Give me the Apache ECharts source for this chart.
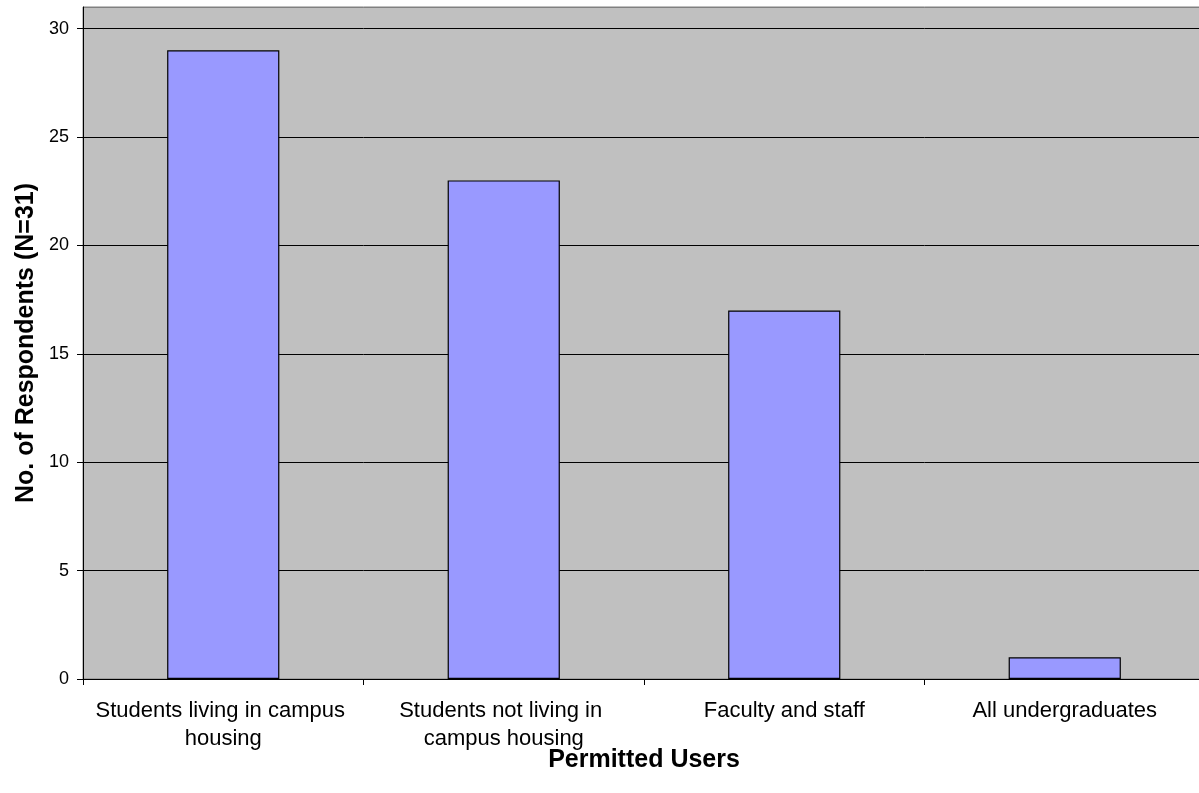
<!DOCTYPE html>
<html>
<head>
<meta charset="utf-8">
<script src="https://cdn.jsdelivr.net/npm/echarts@6/dist/echarts.min.js"></script>
<style>html,body{margin:0;padding:0;background:#fff;overflow:hidden;}#c{width:1212px;height:793px;}</style>
</head>
<body>
<div id="c"></div>
<script>
const categories = ['Students living in campus housing', 'Students not living in campus housing', 'Faculty and staff', 'All undergraduates'];
const respondents = [29, 23, 17, 1];
const yTitle = 'No. of Respondents (N=31)';
const xTitle = 'Permitted Users';

const chart = echarts.init(document.getElementById('c'));
chart.setOption({
  animation: false,
  textStyle: { fontFamily: 'Liberation Sans, Arial, sans-serif' },
  grid: { left: 83, right: 7, top: 7, bottom: 114, show: true, backgroundColor: '#C0C0C0', borderColor: '#808080', borderWidth: 1 },
  xAxis: {
    type: 'category',
    data: categories,
    name: xTitle,
    nameLocation: 'middle',
    nameGap: 69,
    nameMoveOverlap: false,
    nameTextStyle: { fontSize: 25, fontWeight: 'bold', color: '#000' },
    axisLine: { lineStyle: { color: '#000', width: 1 } },
    axisTick: { show: true, length: 6, lineStyle: { color: '#000' } },
    axisLabel: { interval: 0, fontSize: 22, color: '#000', margin: 18, lineHeight: 28, width: 265, overflow: 'break', align: 'center' }
  },
  yAxis: {
    type: 'value',
    min: 0, max: 31, interval: 5,
    name: yTitle,
    nameLocation: 'middle',
    nameGap: 44,
    nameMoveOverlap: false,
    nameTextStyle: { fontSize: 25, fontWeight: 'bold', color: '#000' },
    axisLine: { show: true, lineStyle: { color: '#000' } },
    axisTick: { show: true, length: 6, lineStyle: { color: '#000' } },
    axisLabel: { fontSize: 18, color: '#000', margin: 14, showMaxLabel: false, formatter: v => (v % 5 === 0 ? String(v) : '') },
    splitLine: { show: true, lineStyle: { color: ['#000', '#000', '#000', '#000', '#000', '#000', '#000', '#808080'], width: 1 } }
  },
  series: [{
    type: 'bar',
    data: respondents,
    barWidth: '40%',
    itemStyle: { color: '#9999FF', borderColor: '#000', borderWidth: 1.2 }
  }]
});
</script>
</body>
</html>
